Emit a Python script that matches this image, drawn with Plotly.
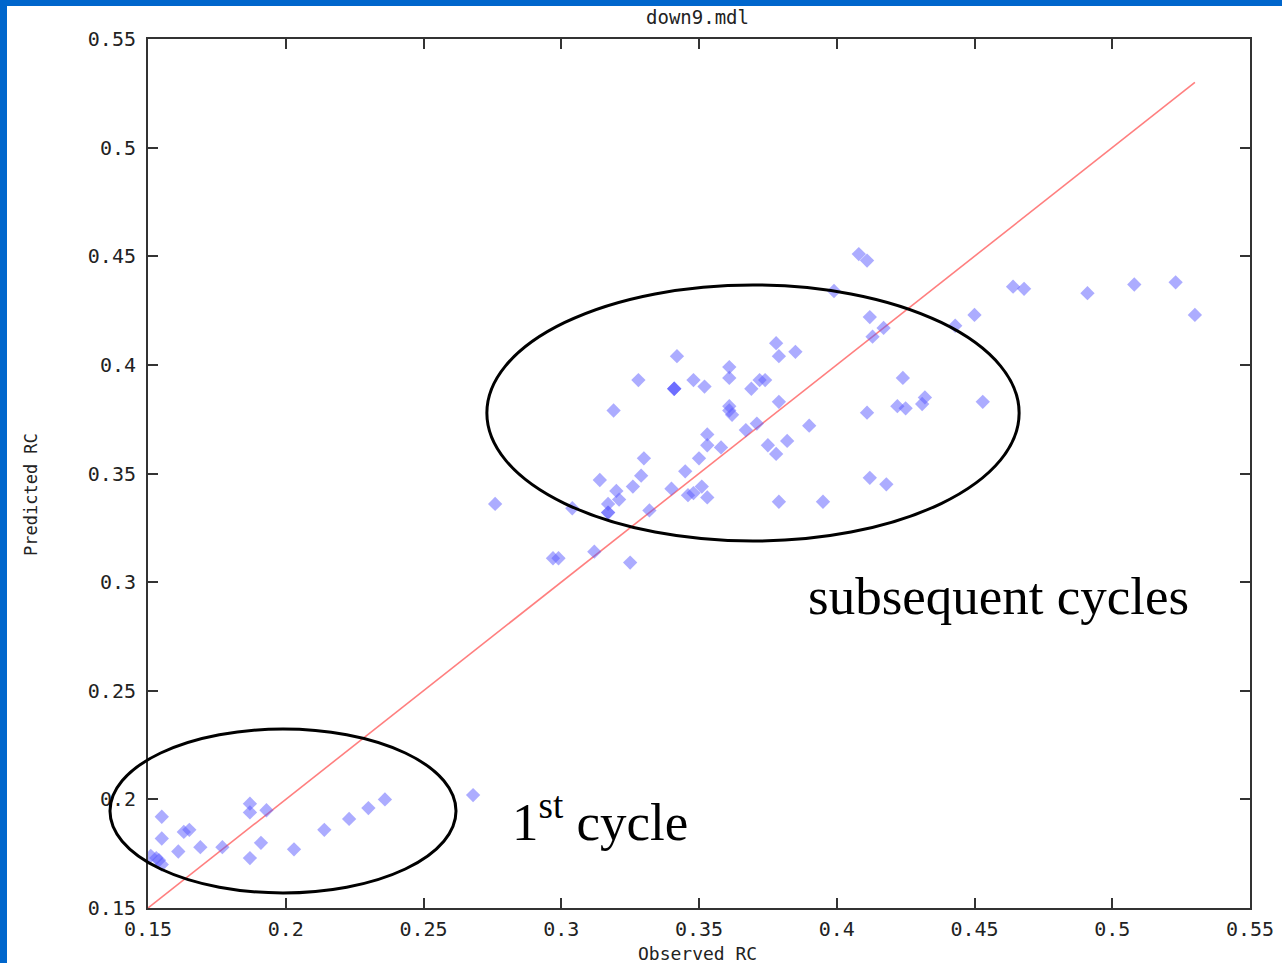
import plotly.graph_objects as go

# ---- data ----
observed_rc = [
    0.155, 0.155, 0.151, 0.153, 0.154, 0.155, 0.161, 0.163, 0.165, 0.169,
    0.177, 0.187, 0.187, 0.193, 0.191, 0.187, 0.203, 0.214, 0.223, 0.230,
    0.236, 0.268,
    0.276, 0.297, 0.299, 0.312, 0.325, 0.304, 0.314, 0.317, 0.317, 0.317,
    0.320, 0.321, 0.319, 0.326, 0.329, 0.330, 0.332, 0.328, 0.340,
    0.341, 0.341, 0.341, 0.342, 0.348, 0.352, 0.345, 0.350, 0.346, 0.348,
    0.351, 0.353, 0.353, 0.353, 0.358, 0.361, 0.361, 0.361, 0.361, 0.362,
    0.367, 0.371, 0.369, 0.372, 0.374, 0.378, 0.379, 0.385, 0.379, 0.375,
    0.378, 0.382, 0.390, 0.379, 0.395, 0.399, 0.408, 0.411, 0.412, 0.417,
    0.413, 0.411, 0.412, 0.418, 0.424, 0.422, 0.425, 0.431, 0.432, 0.443,
    0.450, 0.453, 0.464, 0.468, 0.491, 0.508, 0.523, 0.530,
]
predicted_rc = [
    0.192, 0.182, 0.174, 0.173, 0.172, 0.170, 0.176, 0.185, 0.186, 0.178,
    0.178, 0.198, 0.194, 0.195, 0.180, 0.173, 0.177, 0.186, 0.191, 0.196,
    0.200, 0.202,
    0.336, 0.311, 0.311, 0.314, 0.309, 0.334, 0.347, 0.336, 0.332, 0.332,
    0.342, 0.338, 0.379, 0.344, 0.349, 0.357, 0.333, 0.393, 0.343,
    0.389, 0.389, 0.389, 0.404, 0.393, 0.390, 0.351, 0.357, 0.340, 0.341,
    0.344, 0.339, 0.368, 0.363, 0.362, 0.399, 0.394, 0.381, 0.379, 0.377,
    0.370, 0.373, 0.389, 0.393, 0.393, 0.410, 0.404, 0.406, 0.383, 0.363,
    0.359, 0.365, 0.372, 0.337, 0.337, 0.434, 0.451, 0.448, 0.422, 0.417,
    0.413, 0.378, 0.348, 0.345, 0.394, 0.381, 0.380, 0.382, 0.385, 0.418,
    0.423, 0.383, 0.436, 0.435, 0.433, 0.437, 0.438, 0.423,
]
ideal_line_x = [0.15, 0.53]
ideal_line_y = [0.15, 0.53]
tick_values = [0.15, 0.2, 0.25, 0.3, 0.35, 0.4, 0.45, 0.5, 0.55]
tick_labels = ["0.15", "0.2", "0.25", "0.3", "0.35", "0.4", "0.45", "0.5", "0.55"]
axis_range = [0.15, 0.55]

# ---- layout geometry ----
W, H = 1282, 963
ML, MR, MT, MB = 148, 32, 39, 55
PW, PH = W - ML - MR, H - MT - MB


def px_to_paper_x(px):
    return (px - ML) / PW


def px_to_paper_y(py):
    return (H - MB - py) / PH


def data_to_paper(v):
    return (v - axis_range[0]) / (axis_range[1] - axis_range[0])


mono = "DejaVu Sans Mono"
ink = "#222222"

fig = go.Figure()
fig.add_trace(go.Scatter(
    x=ideal_line_x, y=ideal_line_y, mode="lines",
    line=dict(color="#ff7f7f", width=1.6), hoverinfo="skip", showlegend=False,
))
fig.add_trace(go.Scatter(
    x=observed_rc, y=predicted_rc, mode="markers",
    marker=dict(symbol="diamond", size=11, color="rgba(90,90,255,0.5)",
                line=dict(width=0)),
    showlegend=False,
))

axis_common = dict(
    range=axis_range, tickmode="array", tickvals=tick_values, ticktext=tick_labels,
    ticks="inside", ticklen=10, tickwidth=1.5, tickcolor="#333333",
    showline=True, linecolor="#333333", linewidth=2, mirror="ticks",
    showgrid=False, zeroline=False, automargin=False,
    tickfont=dict(family=mono, size=20, color=ink),
)
fig.update_xaxes(**axis_common, ticklabelstandoff=2)
fig.update_yaxes(**axis_common, ticklabelstandoff=6)

shapes = [
    # ellipse around first cycle
    dict(type="circle", xref="paper", yref="paper",
         x0=data_to_paper(0.1362), x1=data_to_paper(0.2618),
         y0=data_to_paper(0.1569), y1=data_to_paper(0.2324),
         line=dict(color="black", width=3)),
    # ellipse around subsequent cycles
    dict(type="circle", xref="paper", yref="paper",
         x0=data_to_paper(0.2730), x1=data_to_paper(0.4662),
         y0=data_to_paper(0.3189), y1=data_to_paper(0.4368),
         line=dict(color="black", width=3)),
    # blue slide frame (left and top)
    dict(type="rect", xref="paper", yref="paper",
         x0=px_to_paper_x(0), x1=px_to_paper_x(7),
         y0=px_to_paper_y(H), y1=px_to_paper_y(0),
         fillcolor="#0066cc", line=dict(width=0), layer="above"),
    dict(type="rect", xref="paper", yref="paper",
         x0=px_to_paper_x(0), x1=px_to_paper_x(W),
         y0=px_to_paper_y(6), y1=px_to_paper_y(0),
         fillcolor="#0066cc", line=dict(width=0), layer="above"),
]

annotations = [
    dict(text="subsequent cycles", xref="paper", yref="paper",
         x=px_to_paper_x(998), y=px_to_paper_y(596), showarrow=False,
         xanchor="center", yanchor="middle",
         font=dict(family="Liberation Serif", size=53, color="black")),
    dict(text="1<sup>st</sup> cycle", xref="paper", yref="paper",
         x=px_to_paper_x(600), y=px_to_paper_y(818), showarrow=False,
         xanchor="center", yanchor="middle",
         font=dict(family="Liberation Serif", size=53, color="black")),
    dict(text="Predicted RC", xref="paper", yref="paper",
         x=px_to_paper_x(31), y=px_to_paper_y(495), showarrow=False,
         xanchor="center", yanchor="middle", textangle=-90,
         font=dict(family=mono, size=17, color=ink)),
    dict(text="Observed RC", xref="paper", yref="paper",
         x=px_to_paper_x(697), y=px_to_paper_y(953), showarrow=False,
         xanchor="center", yanchor="middle",
         font=dict(family=mono, size=18, color=ink)),
    dict(text="down9.mdl", xref="paper", yref="paper",
         x=px_to_paper_x(697), y=px_to_paper_y(17), showarrow=False,
         xanchor="center", yanchor="middle",
         font=dict(family=mono, size=19, color=ink)),
]

fig.update_layout(
    width=W, height=H,
    margin=dict(l=ML, r=MR, t=MT, b=MB, pad=0, autoexpand=False),
    paper_bgcolor="white", plot_bgcolor="white",
    shapes=shapes, annotations=annotations,
)

fig.write_html("out.html")
